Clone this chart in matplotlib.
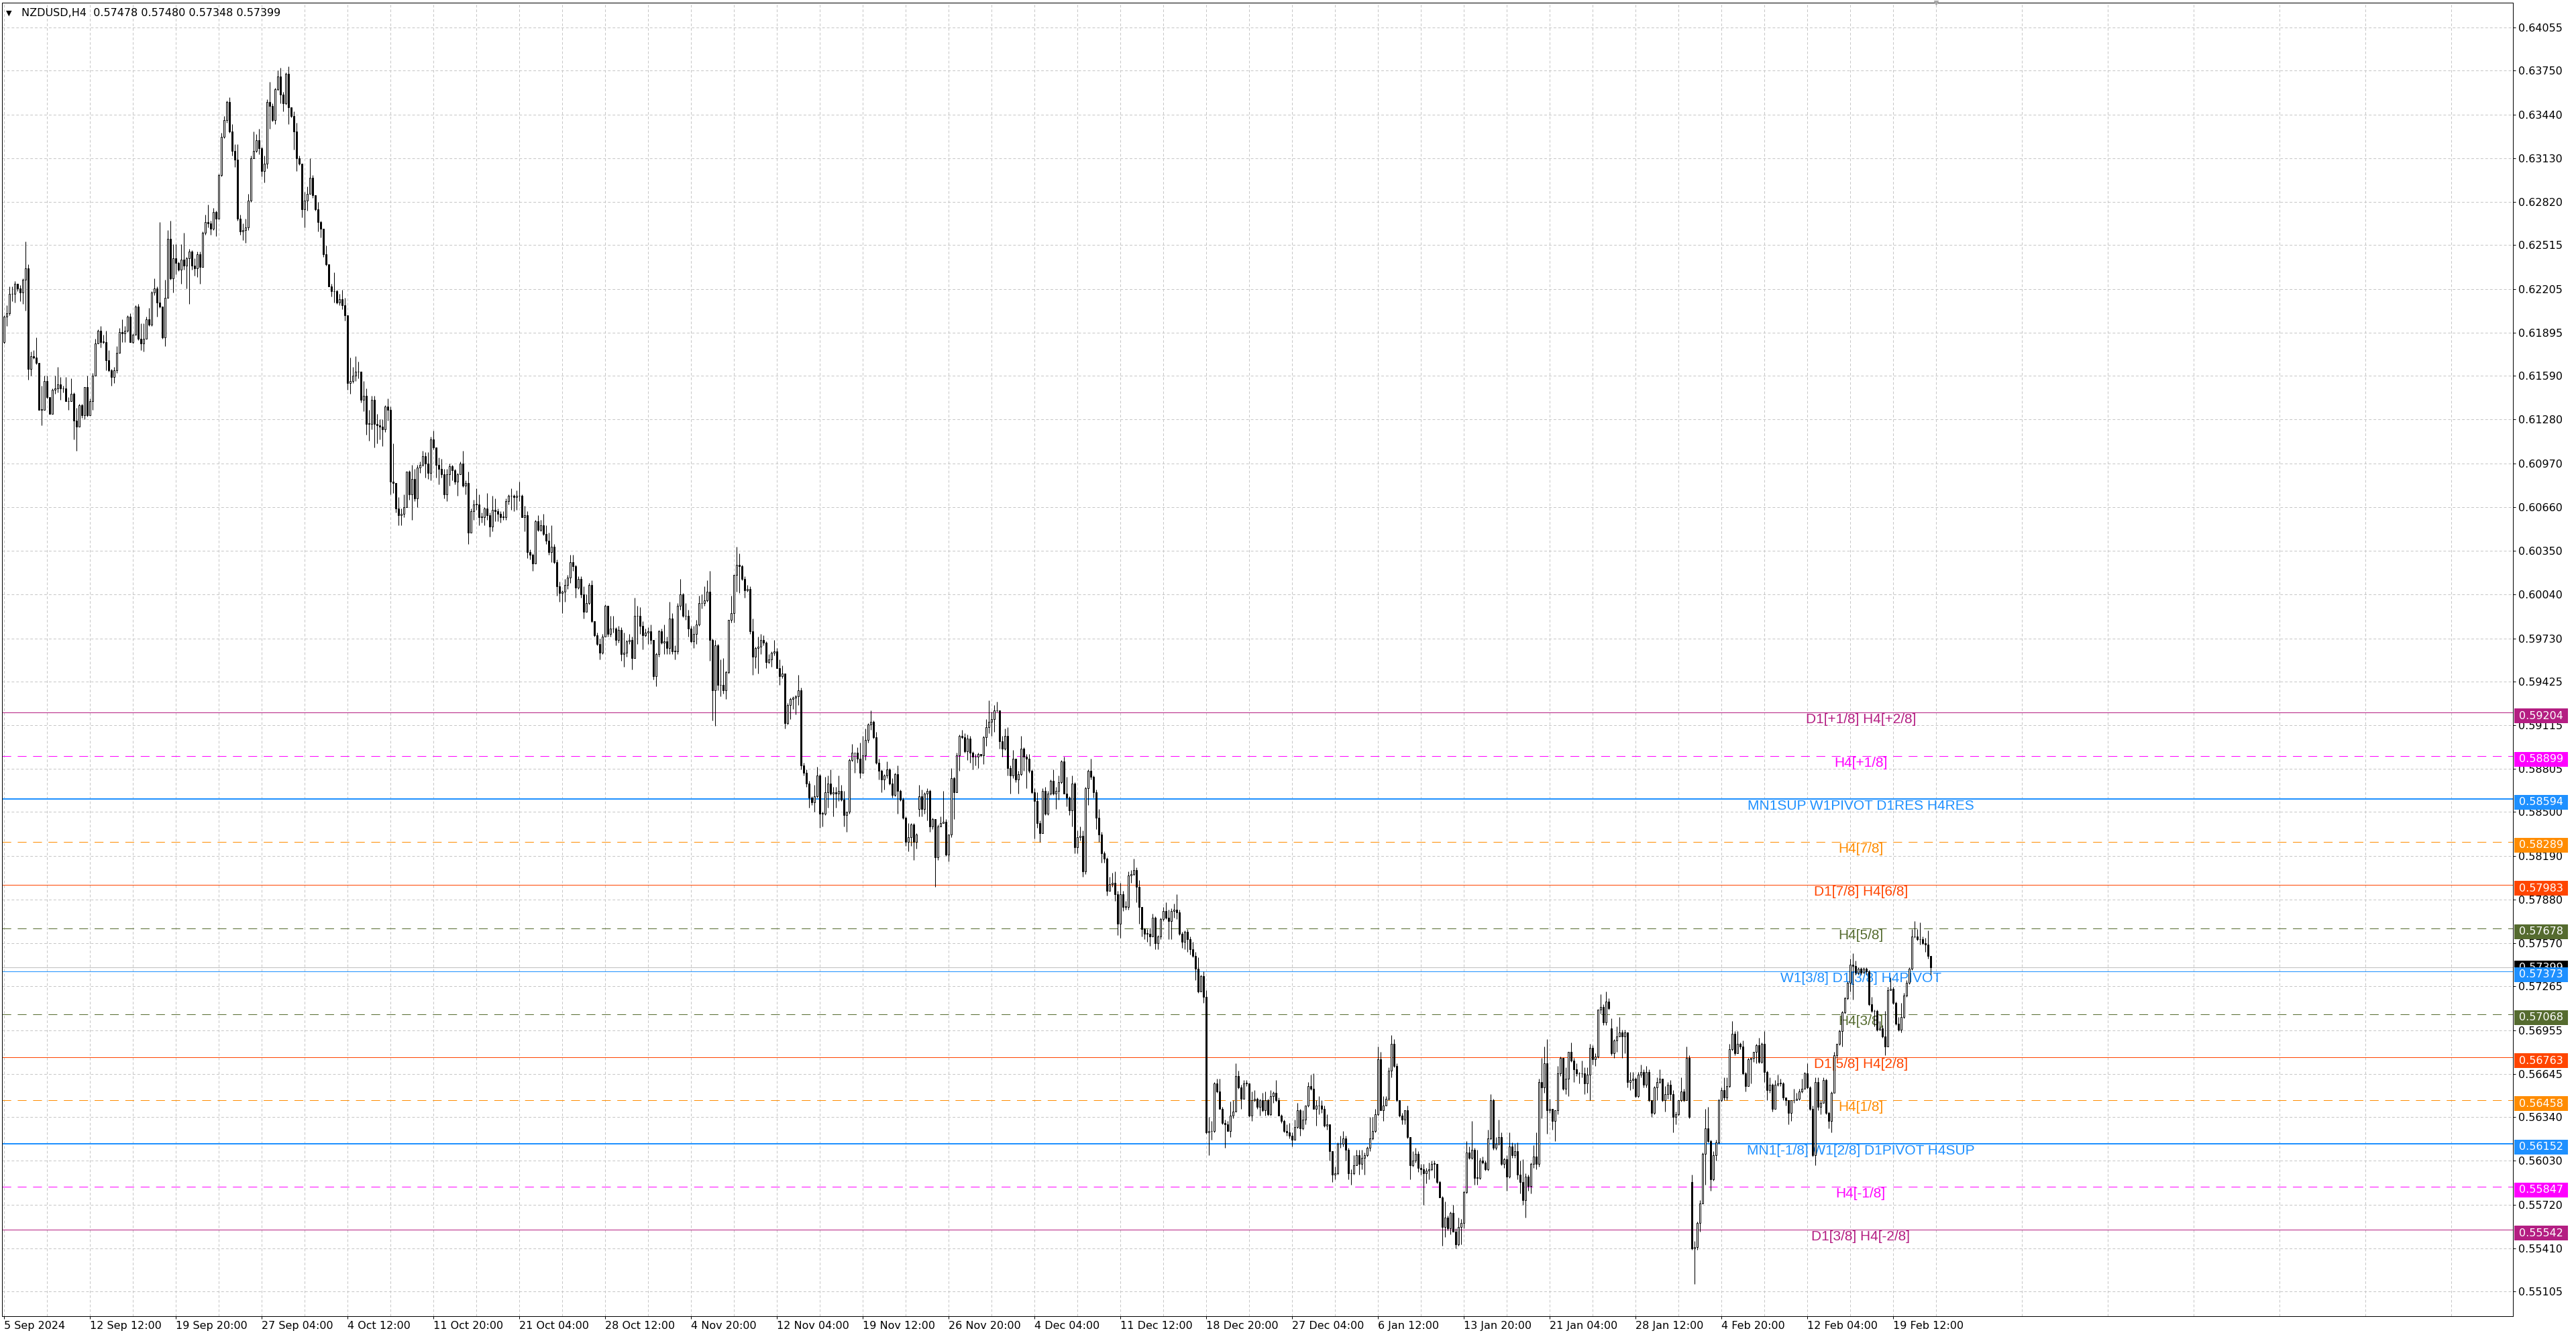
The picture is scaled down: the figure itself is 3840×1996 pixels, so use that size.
import numpy as np
import matplotlib.pyplot as plt
from matplotlib.patches import Rectangle
from matplotlib.transforms import IdentityTransform, offset_copy

plt.rcParams['font.family'] = ['DejaVu Sans']
plt.rcParams['lines.scale_dashes'] = False

# NZDUSD H4, prices in pips (x 0.0001), one value per bar
first_open = 6183
closes = [
    6201, 6203, 6217, 6217, 6224, 6221, 6218, 6227, 6235, 6164,
    6173, 6172, 6168, 6135, 6135, 6155, 6144, 6132, 6149, 6150,
    6153, 6150, 6150, 6141, 6141, 6146, 6127, 6123, 6138, 6131,
    6151, 6131, 6141, 6159, 6182, 6191, 6183, 6183, 6170, 6163,
    6158, 6163, 6175, 6190, 6189, 6191, 6201, 6183, 6188, 6208,
    6185, 6182, 6185, 6199, 6195, 6218, 6221, 6211, 6208, 6186,
    6214, 6256, 6228, 6242, 6239, 6234, 6241, 6237, 6242, 6247,
    6237, 6235, 6245, 6236, 6260, 6268, 6267, 6263, 6275, 6270,
    6301, 6328, 6340, 6353, 6332, 6318, 6312, 6270, 6261, 6262,
    6264, 6283, 6313, 6318, 6326, 6320, 6304, 6309, 6353, 6350,
    6340, 6362, 6371, 6358, 6352, 6373, 6349, 6343, 6332, 6313,
    6309, 6277, 6283, 6288, 6299, 6287, 6277, 6268, 6263, 6245,
    6238, 6222, 6219, 6219, 6211, 6213, 6209, 6202, 6154, 6155,
    6159, 6162, 6162, 6142, 6145, 6125, 6125, 6142, 6125, 6124,
    6123, 6121, 6137, 6135, 6084, 6083, 6065, 6060, 6061, 6066,
    6091, 6075, 6086, 6072, 6094, 6096, 6102, 6097, 6090, 6114,
    6108, 6096, 6093, 6089, 6075, 6089, 6095, 6092, 6084, 6089,
    6097, 6081, 6083, 6048, 6063, 6068, 6068, 6059, 6059, 6065,
    6060, 6052, 6064, 6063, 6061, 6059, 6059, 6070, 6074, 6074,
    6073, 6074, 6074, 6059, 6060, 6034, 6032, 6026, 6056, 6050,
    6053, 6047, 6042, 6034, 6038, 6027, 6010, 6005, 6006, 6011,
    6016, 6027, 6024, 6009, 6015, 6004, 5992, 5998, 6011, 5985,
    5975, 5969, 5963, 5974, 5996, 5976, 5980, 5980, 5972, 5979,
    5962, 5963, 5971, 5972, 5959, 5989, 5989, 5982, 5975, 5977,
    5978, 5972, 5946, 5962, 5978, 5970, 5971, 5966, 5987, 5964,
    5964, 5996, 6004, 5989, 5989, 5980, 5971, 5976, 5983, 5998,
    5998, 6000, 6006, 5972, 5936, 5968, 5940, 5940, 5936, 5949,
    5986, 5991, 6018, 6025, 6024, 6015, 6007, 6008, 5978, 5960,
    5966, 5967, 5972, 5970, 5956, 5958, 5963, 5964, 5952, 5946,
    5948, 5913, 5926, 5930, 5931, 5932, 5936, 5883, 5878, 5870,
    5860, 5857, 5861, 5876, 5849, 5849, 5864, 5870, 5863, 5864,
    5863, 5865, 5859, 5848, 5850, 5887, 5892, 5892, 5888, 5878,
    5890, 5901, 5912, 5914, 5903, 5885, 5879, 5873, 5876, 5880,
    5870, 5862, 5877, 5865, 5859, 5846, 5829, 5832, 5841, 5829,
    5834, 5861, 5852, 5863, 5865, 5840, 5845, 5818, 5840, 5842,
    5843, 5820, 5834, 5874, 5864, 5890, 5904, 5903, 5893, 5902,
    5892, 5889, 5889, 5891, 5890, 5903, 5910, 5914, 5916, 5922,
    5922, 5900, 5895, 5904, 5881, 5876, 5888, 5873, 5877, 5895,
    5889, 5888, 5879, 5864, 5858, 5842, 5835, 5865, 5849, 5863,
    5872, 5863, 5865, 5871, 5886, 5863, 5860, 5851, 5870, 5825,
    5832, 5833, 5808, 5867, 5879, 5875, 5864, 5846, 5834, 5821,
    5817, 5794, 5799, 5800, 5792, 5771, 5792, 5783, 5783, 5805,
    5806, 5809, 5797, 5783, 5767, 5764, 5764, 5762, 5775, 5757,
    5762, 5774, 5780, 5775, 5773, 5780, 5781, 5779, 5764, 5758,
    5765, 5760, 5753, 5748, 5739, 5723, 5734, 5719, 5623, 5624,
    5624, 5658, 5652, 5640, 5630, 5629, 5624, 5635, 5638, 5663,
    5655, 5647, 5658, 5658, 5635, 5646, 5647, 5641, 5646, 5639,
    5646, 5636, 5649, 5651, 5646, 5635, 5631, 5624, 5623, 5621,
    5618, 5627, 5639, 5626, 5632, 5642, 5656, 5654, 5640, 5642,
    5642, 5640, 5628, 5629, 5610, 5593, 5594, 5615, 5615, 5619,
    5611, 5594, 5594, 5600, 5607, 5601, 5605, 5607, 5612, 5619,
    5624, 5636, 5675, 5639, 5642, 5647, 5667, 5686, 5670, 5646,
    5635, 5632, 5639, 5620, 5600, 5603, 5608, 5598, 5597, 5594,
    5596, 5597, 5601, 5601, 5588, 5577, 5556, 5563, 5555, 5566,
    5553, 5544, 5556, 5559, 5581, 5609, 5605, 5611, 5591, 5591,
    5603, 5602, 5597, 5619, 5646, 5612, 5615, 5620, 5601, 5604,
    5592, 5613, 5607, 5610, 5593, 5588, 5575, 5592, 5585, 5601,
    5606, 5601, 5659, 5655, 5672, 5639, 5640, 5631, 5639, 5665,
    5676, 5654, 5661, 5680, 5674, 5668, 5665, 5665, 5665, 5658,
    5664, 5683, 5675, 5677, 5710, 5712, 5701, 5716, 5711, 5679,
    5688, 5691, 5694, 5691, 5694, 5659, 5660, 5661, 5649, 5664,
    5666, 5657, 5666, 5646, 5637, 5655, 5659, 5661, 5646, 5650,
    5657, 5650, 5634, 5636, 5646, 5652, 5646, 5676, 5634, 5541,
    5542, 5559, 5573, 5608, 5626, 5617, 5590, 5607, 5616, 5646,
    5653, 5648, 5656, 5682, 5693, 5679, 5686, 5684, 5665, 5656,
    5675, 5676, 5680, 5685, 5673, 5686, 5666, 5653, 5657, 5640,
    5657, 5658, 5658, 5648, 5646, 5637, 5646, 5646, 5647, 5652,
    5654, 5665, 5655, 5640, 5607, 5659, 5641, 5644, 5660, 5637,
    5631, 5651, 5678, 5686, 5695, 5708, 5718, 5729, 5742, 5741,
    5736, 5739, 5736, 5739, 5737, 5714, 5709, 5709, 5696, 5697,
    5691, 5684, 5724, 5725, 5715, 5700, 5696, 5705, 5720, 5729,
    5739, 5762, 5762, 5760, 5760, 5757, 5756, 5748, 5739.9,
]
highs = [
    6202, 6209, 6222, 6222, 6226, 6224, 6223, 6228, 6254, 6238,
    6176, 6177, 6186, 6168, 6152, 6159, 6159, 6144, 6150, 6159,
    6165, 6158, 6152, 6158, 6144, 6157, 6147, 6136, 6139, 6139,
    6151, 6159, 6143, 6161, 6185, 6192, 6194, 6188, 6191, 6177,
    6164, 6165, 6180, 6193, 6199, 6194, 6202, 6203, 6189, 6209,
    6210, 6196, 6196, 6201, 6207, 6219, 6228, 6222, 6268, 6208,
    6227, 6262, 6269, 6252, 6252, 6240, 6252, 6260, 6243, 6249,
    6248, 6242, 6247, 6247, 6261, 6273, 6280, 6269, 6278, 6276,
    6302, 6331, 6343, 6354, 6356, 6337, 6323, 6323, 6273, 6267,
    6270, 6288, 6315, 6332, 6330, 6334, 6321, 6315, 6355, 6367,
    6352, 6363, 6375, 6377, 6360, 6374, 6378, 6348, 6346, 6338,
    6315, 6309, 6289, 6293, 6313, 6301, 6285, 6282, 6269, 6263,
    6251, 6237, 6224, 6232, 6220, 6217, 6220, 6214, 6202, 6172,
    6165, 6173, 6169, 6162, 6155, 6150, 6135, 6145, 6145, 6132,
    6128, 6128, 6138, 6143, 6137, 6111, 6082, 6073, 6065, 6075,
    6091, 6092, 6096, 6093, 6096, 6098, 6106, 6105, 6105, 6116,
    6120, 6106, 6101, 6100, 6093, 6093, 6097, 6096, 6093, 6090,
    6098, 6106, 6085, 6091, 6065, 6071, 6079, 6075, 6062, 6066,
    6076, 6062, 6074, 6072, 6065, 6063, 6063, 6072, 6075, 6079,
    6075, 6078, 6084, 6075, 6067, 6063, 6036, 6033, 6057, 6060,
    6057, 6061, 6053, 6048, 6053, 6040, 6029, 6013, 6007, 6015,
    6018, 6032, 6032, 6025, 6017, 6017, 6010, 6004, 6012, 6014,
    5985, 5977, 5973, 5976, 5997, 5996, 5989, 5989, 5981, 5982,
    5981, 5977, 5972, 5976, 5974, 6002, 5996, 5995, 5985, 5980,
    5981, 5983, 5972, 5963, 5979, 5980, 5983, 5974, 5999, 5991,
    5968, 5998, 6015, 6005, 5998, 5993, 5982, 5982, 5986, 6003,
    6004, 6010, 6014, 6021, 5973, 5972, 5969, 5958, 5959, 5950,
    5986, 6003, 6018, 6038, 6033, 6025, 6017, 6011, 6010, 5987,
    5967, 5974, 5976, 5975, 5971, 5962, 5964, 5972, 5966, 5958,
    5954, 5948, 5927, 5931, 5932, 5933, 5947, 5938, 5885, 5880,
    5872, 5861, 5869, 5882, 5877, 5850, 5875, 5876, 5880, 5868,
    5868, 5876, 5869, 5865, 5850, 5888, 5898, 5892, 5896, 5899,
    5904, 5909, 5913, 5922, 5915, 5907, 5888, 5880, 5877, 5886,
    5881, 5874, 5878, 5883, 5866, 5860, 5847, 5842, 5842, 5842,
    5835, 5869, 5866, 5864, 5867, 5866, 5846, 5844, 5841, 5847,
    5865, 5845, 5834, 5881, 5875, 5892, 5905, 5908, 5906, 5905,
    5904, 5893, 5891, 5892, 5891, 5904, 5916, 5929, 5921, 5926,
    5928, 5917, 5904, 5909, 5910, 5883, 5894, 5888, 5879, 5904,
    5896, 5891, 5891, 5880, 5867, 5864, 5844, 5867, 5868, 5865,
    5873, 5880, 5868, 5876, 5887, 5889, 5875, 5861, 5876, 5871,
    5837, 5840, 5837, 5868, 5880, 5888, 5876, 5866, 5852, 5836,
    5822, 5818, 5804, 5807, 5808, 5794, 5800, 5794, 5787, 5808,
    5809, 5817, 5811, 5802, 5783, 5768, 5767, 5768, 5778, 5776,
    5763, 5775, 5783, 5786, 5781, 5782, 5785, 5792, 5781, 5765,
    5766, 5767, 5762, 5758, 5751, 5747, 5735, 5737, 5724, 5634,
    5631, 5659, 5661, 5661, 5641, 5632, 5631, 5645, 5646, 5672,
    5667, 5657, 5660, 5660, 5658, 5652, 5653, 5648, 5647, 5651,
    5652, 5647, 5653, 5652, 5660, 5648, 5636, 5632, 5629, 5630,
    5623, 5632, 5644, 5640, 5639, 5642, 5659, 5664, 5665, 5646,
    5649, 5646, 5642, 5636, 5629, 5610, 5599, 5616, 5621, 5624,
    5621, 5612, 5597, 5607, 5611, 5611, 5611, 5609, 5613, 5634,
    5634, 5640, 5684, 5680, 5649, 5649, 5669, 5692, 5689, 5672,
    5646, 5637, 5639, 5642, 5620, 5610, 5612, 5610, 5601, 5601,
    5598, 5602, 5603, 5603, 5601, 5589, 5578, 5574, 5564, 5567,
    5572, 5555, 5563, 5562, 5582, 5617, 5613, 5631, 5612, 5611,
    5605, 5606, 5603, 5625, 5650, 5647, 5620, 5632, 5623, 5605,
    5607, 5623, 5616, 5615, 5616, 5603, 5604, 5594, 5593, 5602,
    5614, 5623, 5661, 5676, 5684, 5689, 5647, 5640, 5639, 5670,
    5677, 5675, 5669, 5680, 5687, 5676, 5672, 5666, 5674, 5669,
    5669, 5686, 5685, 5679, 5710, 5721, 5714, 5723, 5718, 5704,
    5689, 5698, 5705, 5696, 5696, 5692, 5666, 5666, 5662, 5666,
    5671, 5668, 5670, 5668, 5646, 5656, 5662, 5668, 5661, 5656,
    5659, 5660, 5653, 5638, 5646, 5662, 5654, 5684, 5678, 5593,
    5546, 5560, 5575, 5609, 5640, 5641, 5618, 5610, 5618, 5647,
    5655, 5662, 5662, 5686, 5702, 5695, 5695, 5687, 5688, 5666,
    5676, 5676, 5680, 5686, 5690, 5687, 5695, 5667, 5662, 5658,
    5660, 5664, 5661, 5659, 5647, 5646, 5646, 5654, 5651, 5654,
    5661, 5666, 5672, 5656, 5642, 5662, 5662, 5646, 5662, 5661,
    5638, 5652, 5680, 5686, 5696, 5709, 5719, 5730, 5746, 5750,
    5745, 5740, 5740, 5740, 5740, 5738, 5719, 5710, 5710, 5702,
    5699, 5709, 5726, 5733, 5726, 5716, 5705, 5715, 5722, 5731,
    5740, 5767, 5773, 5767, 5772, 5762, 5761, 5766, 5748.0,
]
lows = [
    6182, 6194, 6202, 6212, 6211, 6219, 6212, 6210, 6205, 6156,
    6159, 6171, 6167, 6135, 6124, 6135, 6143, 6132, 6132, 6146,
    6147, 6142, 6147, 6141, 6135, 6141, 6114, 6106, 6123, 6129,
    6128, 6130, 6131, 6135, 6159, 6182, 6179, 6182, 6163, 6162,
    6152, 6154, 6161, 6175, 6183, 6183, 6190, 6183, 6182, 6188,
    6184, 6177, 6176, 6186, 6194, 6194, 6216, 6201, 6207, 6185,
    6180, 6214, 6227, 6218, 6231, 6233, 6224, 6234, 6221, 6210,
    6234, 6230, 6229, 6224, 6236, 6259, 6264, 6259, 6262, 6258,
    6270, 6300, 6327, 6338, 6331, 6315, 6307, 6269, 6259, 6255,
    6253, 6262, 6282, 6313, 6317, 6316, 6300, 6296, 6306, 6334,
    6339, 6337, 6361, 6352, 6346, 6351, 6337, 6342, 6319, 6304,
    6308, 6271, 6264, 6276, 6288, 6285, 6276, 6261, 6257, 6243,
    6237, 6222, 6215, 6211, 6210, 6209, 6206, 6198, 6149, 6146,
    6154, 6155, 6157, 6140, 6134, 6117, 6113, 6121, 6108, 6111,
    6114, 6109, 6119, 6127, 6075, 6076, 6062, 6053, 6053, 6059,
    6066, 6071, 6057, 6070, 6066, 6090, 6095, 6087, 6086, 6085,
    6107, 6087, 6082, 6087, 6072, 6070, 6081, 6085, 6082, 6074,
    6089, 6080, 6075, 6040, 6048, 6057, 6064, 6053, 6055, 6053,
    6057, 6045, 6049, 6056, 6056, 6055, 6057, 6057, 6068, 6064,
    6063, 6064, 6070, 6059, 6049, 6030, 6029, 6021, 6026, 6049,
    6049, 6046, 6040, 6032, 6027, 6026, 6003, 5999, 5991, 5999,
    6008, 6012, 6021, 6002, 6008, 6002, 5987, 5992, 5997, 5984,
    5974, 5968, 5958, 5962, 5974, 5974, 5974, 5977, 5968, 5970,
    5957, 5953, 5960, 5969, 5951, 5959, 5969, 5976, 5965, 5974,
    5969, 5969, 5944, 5939, 5960, 5969, 5962, 5962, 5962, 5962,
    5958, 5962, 5993, 5988, 5986, 5974, 5970, 5966, 5969, 5982,
    5994, 5996, 5999, 5957, 5915, 5911, 5936, 5932, 5934, 5930,
    5948, 5984, 5984, 6006, 6005, 6014, 6002, 6006, 5976, 5947,
    5952, 5948, 5962, 5968, 5952, 5955, 5953, 5961, 5952, 5940,
    5945, 5909, 5912, 5916, 5923, 5919, 5926, 5880, 5876, 5868,
    5853, 5855, 5850, 5860, 5839, 5840, 5848, 5853, 5862, 5847,
    5853, 5858, 5858, 5840, 5836, 5849, 5886, 5878, 5885, 5874,
    5878, 5887, 5899, 5908, 5902, 5884, 5873, 5864, 5866, 5874,
    5869, 5860, 5861, 5849, 5858, 5845, 5826, 5822, 5826, 5816,
    5824, 5847, 5847, 5849, 5844, 5836, 5838, 5797, 5816, 5840,
    5842, 5819, 5815, 5832, 5845, 5864, 5879, 5902, 5892, 5887,
    5885, 5880, 5883, 5881, 5889, 5884, 5897, 5906, 5904, 5907,
    5921, 5895, 5889, 5894, 5876, 5863, 5874, 5871, 5863, 5876,
    5879, 5867, 5878, 5863, 5831, 5839, 5829, 5835, 5848, 5848,
    5862, 5862, 5852, 5859, 5870, 5863, 5854, 5848, 5840, 5821,
    5821, 5830, 5804, 5806, 5855, 5873, 5860, 5838, 5829, 5814,
    5814, 5791, 5794, 5797, 5787, 5763, 5761, 5780, 5781, 5781,
    5800, 5805, 5786, 5771, 5762, 5760, 5758, 5755, 5762, 5753,
    5753, 5760, 5773, 5774, 5760, 5760, 5775, 5774, 5763, 5754,
    5753, 5751, 5749, 5747, 5731, 5722, 5723, 5715, 5622, 5607,
    5618, 5623, 5651, 5640, 5629, 5612, 5624, 5620, 5633, 5638,
    5654, 5640, 5647, 5656, 5634, 5631, 5645, 5640, 5635, 5638,
    5635, 5635, 5635, 5644, 5645, 5635, 5630, 5623, 5621, 5619,
    5613, 5618, 5626, 5621, 5625, 5629, 5641, 5653, 5640, 5628,
    5636, 5637, 5627, 5625, 5603, 5588, 5590, 5593, 5612, 5613,
    5603, 5590, 5586, 5593, 5600, 5593, 5597, 5593, 5606, 5610,
    5618, 5623, 5635, 5639, 5631, 5642, 5646, 5662, 5669, 5645,
    5634, 5629, 5629, 5619, 5590, 5599, 5602, 5595, 5593, 5572,
    5587, 5590, 5596, 5591, 5587, 5577, 5543, 5549, 5554, 5551,
    5553, 5541, 5543, 5544, 5555, 5580, 5604, 5604, 5586, 5586,
    5590, 5601, 5596, 5596, 5618, 5611, 5611, 5614, 5600, 5598,
    5582, 5591, 5605, 5605, 5590, 5580, 5572, 5563, 5582, 5580,
    5598, 5597, 5599, 5633, 5651, 5622, 5637, 5625, 5617, 5636,
    5663, 5653, 5650, 5649, 5673, 5659, 5663, 5658, 5662, 5650,
    5651, 5646, 5671, 5670, 5676, 5707, 5699, 5699, 5710, 5678,
    5676, 5680, 5691, 5676, 5679, 5655, 5653, 5654, 5648, 5648,
    5662, 5655, 5655, 5645, 5634, 5636, 5646, 5658, 5645, 5638,
    5647, 5646, 5623, 5629, 5635, 5645, 5645, 5646, 5633, 5540,
    5516, 5540, 5553, 5573, 5586, 5616, 5582, 5589, 5603, 5615,
    5645, 5646, 5646, 5655, 5681, 5678, 5680, 5682, 5664, 5652,
    5656, 5658, 5673, 5672, 5672, 5672, 5659, 5646, 5651, 5638,
    5640, 5656, 5656, 5646, 5642, 5629, 5631, 5644, 5646, 5646,
    5651, 5654, 5654, 5639, 5606, 5600, 5639, 5636, 5644, 5636,
    5626, 5623, 5651, 5676, 5685, 5684, 5707, 5717, 5723, 5717,
    5735, 5735, 5735, 5736, 5735, 5713, 5708, 5698, 5695, 5696,
    5690, 5678, 5684, 5724, 5714, 5699, 5695, 5694, 5704, 5719,
    5728, 5738, 5761, 5759, 5756, 5756, 5751, 5746, 5734.8,
]
# weekend gaps: bars whose open is not the previous close
gap_bars = [341, 599, 629]
gap_opens = [5852, 5697, 5588]

header = 'NZDUSD,H4  0.57478 0.57480 0.57348 0.57399'
bid = 0.57399

date_labels = ['5 Sep 2024', '12 Sep 12:00', '19 Sep 20:00', '27 Sep 04:00', '4 Oct 12:00',
               '11 Oct 20:00', '21 Oct 04:00', '28 Oct 12:00', '4 Nov 20:00', '12 Nov 04:00',
               '19 Nov 12:00', '26 Nov 20:00', '4 Dec 04:00', '11 Dec 12:00', '18 Dec 20:00',
               '27 Dec 04:00', '6 Jan 12:00', '13 Jan 20:00', '21 Jan 04:00', '28 Jan 12:00',
               '4 Feb 20:00', '12 Feb 04:00', '19 Feb 12:00']
price_ticks = [0.64055, 0.63750, 0.63440, 0.63130, 0.62820, 0.62515, 0.62205, 0.61895,
               0.61590, 0.61280, 0.60970, 0.60660, 0.60350, 0.60040, 0.59730, 0.59425,
               0.59115, 0.58805, 0.58500, 0.58190, 0.57880, 0.57570, 0.57265, 0.56955,
               0.56645, 0.56340, 0.56030, 0.55720, 0.55410, 0.55105]

levels = [0.59204, 0.58899, 0.58594, 0.58289, 0.57983, 0.57678, 0.57373,
          0.57068, 0.56763, 0.56458, 0.56152, 0.55847, 0.55542]
level_names = ['D1[+1/8] H4[+2/8]', 'H4[+1/8]', 'MN1SUP W1PIVOT D1RES H4RES', 'H4[7/8]',
               'D1[7/8] H4[6/8]', 'H4[5/8]', 'W1[3/8] D1[3/8] H4PIVOT', 'H4[3/8]',
               'D1[5/8] H4[2/8]', 'H4[1/8]', 'MN1[-1/8] W1[2/8] D1PIVOT H4SUP', 'H4[-1/8]',
               'D1[3/8] H4[-2/8]']

# styles of the level lines
level_colors = ['#B41E82', '#FF00FF', '#1E90FF', '#FF8C00', '#FF4500', '#556B2F', '#1E90FF',
                '#556B2F', '#FF4500', '#FF8C00', '#1E90FF', '#FF00FF', '#B41E82']
level_dashed = [False, True, False, True, False, True, False, True, False, True, False, True, False]
level_lw = [0.72, 0.72, 1.44, 0.72, 0.72, 0.72, 0.72, 0.72, 0.72, 0.72, 1.44, 0.72, 0.72]

c = np.array(closes) / 1e4
h = np.array(highs) / 1e4
l = np.array(lows) / 1e4
n = len(c)
o = np.empty(n)
o[0] = first_open / 1e4
o[1:] = c[:-1]
for b, v in zip(gap_bars, gap_opens):
    o[b] = v / 1e4
h = np.maximum(h, np.maximum(o, c))
l = np.minimum(l, np.minimum(o, c))
x = np.arange(n)

W, H = 3840, 1996
fig = plt.figure(figsize=(W / 100, H / 100), dpi=100)
fig.patch.set_facecolor('white')
ax = fig.add_axes([3 / W, 34 / H, 3743 / W, 1958 / H])
ax.set_xlim(-0.675, 935.075)
ax.set_ylim(0.549297, 0.642318)

# grid and axes
ax.set_yticks(price_ticks)
ax.set_yticklabels([f'{v:.5f}' for v in price_ticks])
ax.yaxis.tick_right()
ax.tick_params(axis='y', direction='out', length=3, width=0.72, pad=2.5, labelsize=11.5)
ax.set_xticks(np.arange(len(date_labels)) * 32)
ax.set_xticklabels(date_labels, ha='left')
ax.set_xticks(np.arange(16, 936, 32), minor=True)
ax.tick_params(axis='x', which='major', direction='out', length=3, width=0.72, pad=2, labelsize=11.5)
ax.tick_params(axis='x', which='minor', length=0)
ax.grid(True, which='both', color='#C6C6C6', linestyle=(0, (2.8, 2.2)), lw=0.72, zorder=0)
ax.set_axisbelow(True)
for s in ax.spines.values():
    s.set_color('black')
    s.set_linewidth(0.72)

# levels
for lv, name, col, dsh, lw in zip(levels, level_names, level_colors, level_dashed, level_lw):
    ax.axhline(lv, color=col, lw=lw, ls=(0, (9.5, 7)) if dsh else '-', zorder=1.5)
    ax.text(692, lv, name, ha='center', va='top', fontsize=15, color=col,
            family=['Liberation Sans', 'DejaVu Sans'], zorder=2,
            transform=offset_copy(ax.transData, fig=fig, y=-1, units='dots'))
ax.axhline(bid, color='#C0C0C0', lw=0.72, zorder=1.4)

# candles
up = c >= o
body_lo = np.minimum(o, c)
body_h = np.maximum(np.abs(c - o), 0.000008)
ax.vlines(x, l, h, color='black', lw=0.75, zorder=3)
ax.bar(x[up], body_h[up], bottom=body_lo[up], width=0.55, facecolor='white',
       edgecolor='black', lw=0.7, zorder=4)
ax.bar(x[~up], body_h[~up], bottom=body_lo[~up], width=0.55, facecolor='black',
       edgecolor='black', lw=0.7, zorder=4)
ax.plot([n + 1], [0.642318], marker='v', ms=5, color='#A8A8A8', clip_on=False, zorder=5)


# price boxes on the right scale
def price_box(v, fc, dy, z):
    yp = ax.transData.transform((0, v))[1] - dy
    fig.add_artist(Rectangle((3748, yp - 11), 80, 22, transform=IdentityTransform(),
                             facecolor=fc, edgecolor='none', zorder=z))
    fig.text(3788 / W, yp / H, f'{v:.5f}', color='white', ha='center', va='center',
             fontsize=11.5, zorder=z + 0.1)


price_box(bid, 'black', 0.5, 5)
for i, (lv, col) in enumerate(zip(levels, level_colors)):
    price_box(lv, col, 5, 6 + i * 0.01)

fig.text(9 / W, 1 - 20 / H, '\u25bc', fontsize=8, va='center', ha='left', zorder=7)
fig.text(32 / W, 1 - 20 / H, header, fontsize=11.5, va='center', ha='left', zorder=7)

fig.savefig('out.png', dpi=100, facecolor='white')
